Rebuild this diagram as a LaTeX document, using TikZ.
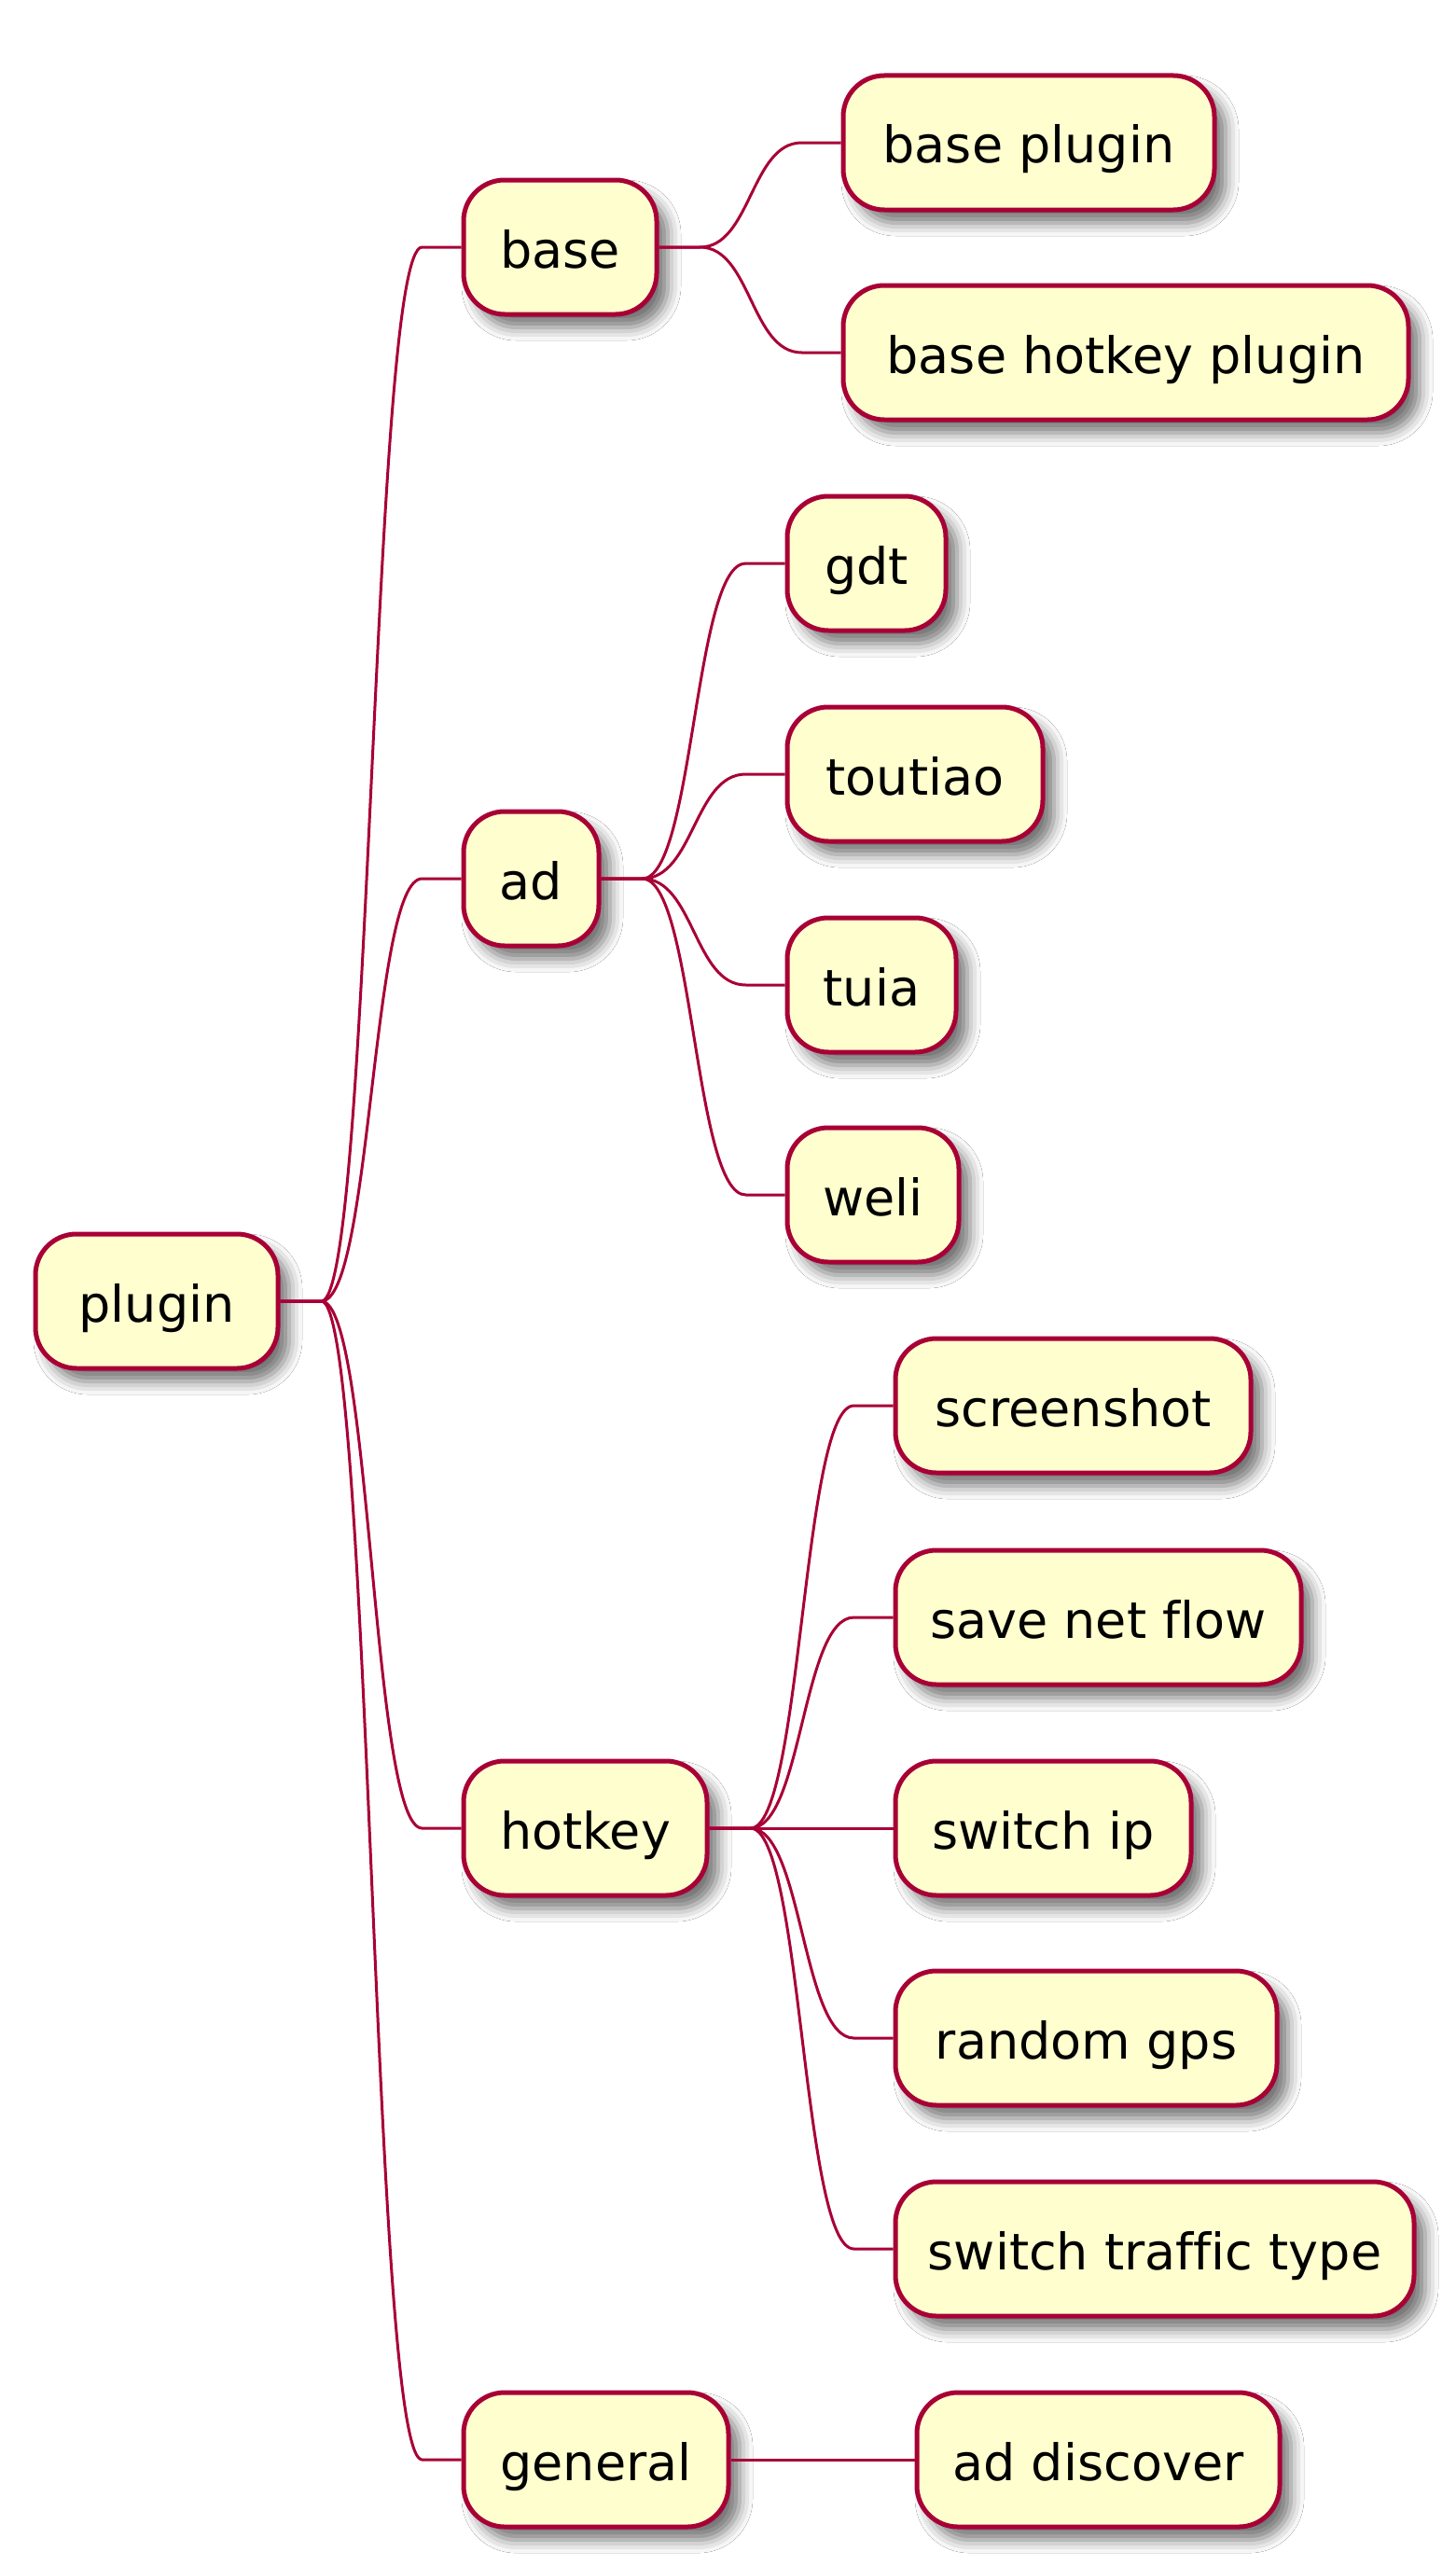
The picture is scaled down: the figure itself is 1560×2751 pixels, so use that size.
\documentclass[tikz,border=0pt]{standalone}
\usepackage{fontspec}
\setmainfont[Ligatures=NoCommon]{DejaVu Sans}
\usetikzlibrary{calc,shadows.blur}
\definecolor{mmred}{HTML}{A80036}
\definecolor{mmfill}{HTML}{FEFECE}
\tikzset{
  mm/.style={draw=mmred, fill=mmfill, line width=2.5pt, rounded corners=22pt,
    minimum height=72pt, inner sep=0pt, text height=22pt, text depth=0pt,
    font=\fontsize{27pt}{32pt}\selectfont,
    blur shadow={shadow xshift=6pt, shadow yshift=-7pt, shadow blur radius=7pt, shadow opacity=55}},
  conn/.style={draw=mmred, line width=1.5pt}
}
\newcommand\mmlink[2]{%
  \path ([xshift=22pt]#1.east) coordinate (mmA)
        ([xshift=-21pt]#2.west) coordinate (mmB);
  \path ($(mmA)!0.5!(mmB)$) coordinate (mmM);
  \draw[conn] (#1.east) -- (mmA) .. controls (mmM |- mmA) and (mmM |- mmB) .. (mmB) -- (#2.west);}
\begin{document}
\begin{tikzpicture}[x=0.5pt,y=-0.5pt]
\useasboundingbox[fill=white] (0,0) rectangle (1560,2751);
\node[mm, minimum width=130pt]   (plugin)  at (168,1395)  {plugin};
\node[mm, minimum width=103.5pt] (base)    at (600.5,265) {base};
\node[mm, minimum width=199pt]   (bplug)   at (1103,153)  {base plugin};
\node[mm, minimum width=303pt]   (bhot)    at (1207,378)  {base hotkey plugin};
\node[mm, minimum width=72.5pt]  (ad)      at (569.5,942) {ad};
\node[mm, minimum width=85pt]    (gdt)     at (929,604)   {gdt};
\node[mm, minimum width=137pt]   (toutiao) at (981,830)   {toutiao};
\node[mm, minimum width=90.5pt]  (tuia)    at (934.5,1056) {tuia};
\node[mm, minimum width=92pt]    (weli)    at (936,1281)  {weli};
\node[mm, minimum width=130.5pt] (hotkey)  at (627.5,1960) {hotkey};
\node[mm, minimum width=190.5pt] (shot)    at (1150.5,1507) {screenshot};
\node[mm, minimum width=217.5pt] (saveflow) at (1177.5,1734) {save net flow};
\node[mm, minimum width=158.5pt] (swip)    at (1118.5,1960) {switch ip};
\node[mm, minimum width=204.5pt] (rgps)    at (1164.5,2185) {random gps};
\node[mm, minimum width=278pt]   (traffic) at (1238,2411) {switch traffic type};
\node[mm, minimum width=142pt]   (general) at (639,2637)  {general};
\node[mm, minimum width=194.5pt] (addisc)  at (1177.5,2637) {ad discover};
\mmlink{plugin}{base}
\mmlink{plugin}{ad}
\mmlink{plugin}{hotkey}
\mmlink{plugin}{general}
\mmlink{base}{bplug}
\mmlink{base}{bhot}
\mmlink{ad}{gdt}
\mmlink{ad}{toutiao}
\mmlink{ad}{tuia}
\mmlink{ad}{weli}
\mmlink{hotkey}{shot}
\mmlink{hotkey}{saveflow}
\mmlink{hotkey}{swip}
\mmlink{hotkey}{rgps}
\mmlink{hotkey}{traffic}
\mmlink{general}{addisc}
\end{tikzpicture}
\end{document}
